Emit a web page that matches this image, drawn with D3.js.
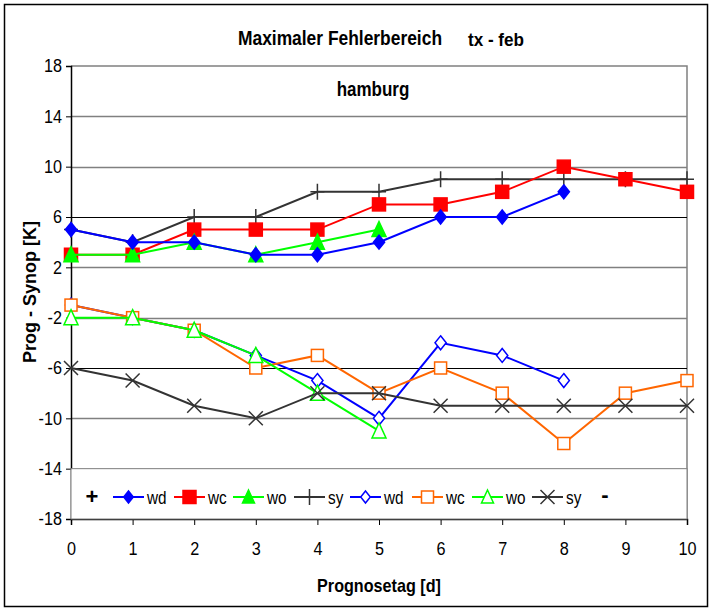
<!DOCTYPE html>
<html>
<head>
<meta charset="utf-8">
<script src="https://cdn.jsdelivr.net/npm/d3@7"></script>
<style>
  html, body { margin: 0; padding: 0; background: #fff; }
  svg { display: block; }
  text { font-family: "Liberation Sans", Arial, sans-serif; }
</style>
</head>
<body>
<svg id="chart" width="712" height="611"></svg>
<script>
// Forecast day (x) and maximum error range per model (upper "+" and lower "-" bounds)
const days = [0, 1, 2, 3, 4, 5, 6, 7, 8, 9, 10];
const yTicks = [18, 14, 10, 6, 2, -2, -6, -10, -14, -18];

const wdMax = [5, 4, 4, 3, 3, 4, 6, 6, 8];
const wcMax = [3, 3, 5, 5, 5, 7, 7, 8, 10, 9, 8];
const woMax = [3, 3, 4, 3, 4, 5];
const syMax = [5, 4, 6, 6, 8, 8, 9, 9, 9, 9, 9];

const wdMin = [-1, -2, -3, -5, -7, -10, -4, -5, -7];
const wcMin = [-1, -2, -3, -6, -5, -8, -6, -8, -12, -8, -7];
const woMin = [-2, -2, -3, -5, -8, -11];
const syMin = [-6, -7, -9, -10, -8, -8, -9, -9, -9, -9, -9];

const seriesNames = ["wd", "wc", "wo", "sy", "wd", "wc", "wo", "sy"];

const series = [
  { name: seriesNames[0], values: wdMax, color: "#0000ff", marker: "diamond", filled: true },
  { name: seriesNames[1], values: wcMax, color: "#ff0000", marker: "square", filled: true },
  { name: seriesNames[2], values: woMax, color: "#00ff00", marker: "triangle", filled: true },
  { name: seriesNames[3], values: syMax, color: "#333333", marker: "plus", filled: false },
  { name: seriesNames[4], values: wdMin, color: "#0000ff", marker: "diamond", filled: false },
  { name: seriesNames[5], values: wcMin, color: "#ff6600", marker: "square", filled: false },
  { name: seriesNames[6], values: woMin, color: "#00ff00", marker: "triangle", filled: false },
  { name: seriesNames[7], values: syMin, color: "#333333", marker: "cross", filled: false }
];

const svg = d3.select("#chart");
const W = 712, H = 611;
const plot = { left: 71, right: 687, top: 66, bottom: 519 };

const x = d3.scaleLinear().domain([0, 10]).range([plot.left, plot.right]);
const y = d3.scaleLinear().domain([-18, 18]).range([plot.bottom, plot.top]);

// squeeze a text element horizontally by a factor (narrow type look)
function narrow(sel, f) {
  sel.each(function () {
    const w = this.getComputedTextLength();
    d3.select(this).attr("textLength", w * f).attr("lengthAdjust", "spacingAndGlyphs");
  });
  return sel;
}

// outer chart frame
svg.append("rect").attr("x", 4.5).attr("y", 4.5).attr("width", W - 9).attr("height", H - 9)
  .attr("fill", "#fff").attr("stroke", "#000").attr("stroke-width", 1.5);

// plot area frame (right + top)
svg.append("path")
  .attr("d", `M${plot.left},${y(18)}H${plot.right}V${plot.bottom}`)
  .attr("fill", "none").attr("stroke", "#808080").attr("stroke-width", 1.5);

// horizontal gridlines
svg.append("g").selectAll("line").data(yTicks.filter(v => v !== 18 && v !== -18)).join("line")
  .attr("x1", plot.left).attr("x2", plot.right)
  .attr("y1", d => Math.round(y(d)) + 0.5).attr("y2", d => Math.round(y(d)) + 0.5)
  .attr("stroke", d => Math.abs(d) === 6 ? "#000" : "#808080")
  .attr("stroke-width", d => Math.abs(d) === 6 ? 1.2 : 1.5);

const fmt = d => String(d); // plain hyphen minus

// y axis
const yAxis = d3.axisLeft(y).tickValues(yTicks).tickFormat(fmt).tickSize(5).tickPadding(4);
const gy = svg.append("g").attr("transform", `translate(${plot.left},0)`).call(yAxis);
gy.select(".domain").attr("stroke", "#000").attr("stroke-width", 1.5);
gy.selectAll(".tick line").attr("stroke", "#000");
gy.selectAll(".tick text").attr("font-size", 18).attr("fill", "#000")
  .style("font-family", "'Liberation Sans', Arial, sans-serif");
narrow(gy.selectAll(".tick text"), 0.9);

// x axis
const xAxis = d3.axisBottom(x).tickValues(days).tickFormat(fmt).tickSize(6).tickPadding(17);
const gx = svg.append("g").attr("transform", `translate(0,${plot.bottom})`).call(xAxis);
gx.select(".domain").attr("stroke", "#000").attr("stroke-width", 1.5);
gx.selectAll(".tick line").attr("stroke", "#000");
gx.selectAll(".tick text").attr("font-size", 18).attr("fill", "#000")
  .style("font-family", "'Liberation Sans', Arial, sans-serif");
narrow(gx.selectAll(".tick text"), 0.9);

// legend box
svg.append("rect").attr("x", plot.left).attr("y", y(-14))
  .attr("width", plot.right - plot.left).attr("height", plot.bottom - y(-14))
  .attr("fill", "#fff").attr("stroke", "#808080").attr("stroke-width", 1);

// marker drawing
function drawMarker(g, s, cx, cy, big) {
  const r = big ? 7 : 6;
  const fill = s.filled ? s.color : "#fff";
  if (s.marker === "diamond") {
    g.append("path").attr("d", `M${cx},${cy - r}L${cx + r * 0.8},${cy}L${cx},${cy + r}L${cx - r * 0.8},${cy}Z`)
      .attr("fill", fill).attr("stroke", s.color).attr("stroke-width", 1.5);
  } else if (s.marker === "square") {
    const h = s.filled ? 6.5 : 6;
    g.append("rect").attr("x", cx - h).attr("y", cy - h).attr("width", 2 * h).attr("height", 2 * h)
      .attr("fill", fill).attr("stroke", s.color).attr("stroke-width", 1.5);
  } else if (s.marker === "triangle") {
    g.append("path").attr("d", `M${cx},${cy - r - 1}L${cx + r},${cy + r}L${cx - r},${cy + r}Z`)
      .attr("fill", fill).attr("stroke", s.color).attr("stroke-width", 1.5);
  } else if (s.marker === "plus") {
    g.append("path").attr("d", `M${cx - 7},${cy}H${cx + 7}M${cx},${cy - 8}V${cy + 8}`)
      .attr("stroke", s.color).attr("stroke-width", 1.5).attr("fill", "none");
  } else if (s.marker === "cross") {
    g.append("path").attr("d", `M${cx - 7},${cy - 7}L${cx + 7},${cy + 7}M${cx - 7},${cy + 7}L${cx + 7},${cy - 7}`)
      .attr("stroke", s.color).attr("stroke-width", 1.5).attr("fill", "none");
  }
}

const line = d3.line().x((d, i) => x(days[i])).y(d => y(d));
const gSeries = svg.append("g");
// draw lower-bound group first, then upper bound
[4, 5, 6, 7, 3, 1, 2, 0].forEach(k => {
  const s = series[k];
  const g = gSeries.append("g");
  g.append("path").attr("d", line(s.values)).attr("fill", "none")
    .attr("stroke", s.color).attr("stroke-width", 2);
  s.values.forEach((v, i) => drawMarker(g, s, x(days[i]), y(v), true));
});

// legend entries
const legY = 497;
const legG = svg.append("g");
legG.append("text").attr("x", 92).attr("y", legY + 7).attr("text-anchor", "middle")
  .attr("font-size", 22).attr("font-weight", "bold").text("+");
const legStart = [113, 174, 233, 294, 350, 412, 472, 532];
series.forEach((s, k) => {
  const x0 = legStart[k];
  legG.append("line").attr("x1", x0).attr("x2", x0 + 31).attr("y1", legY).attr("y2", legY)
    .attr("stroke", s.color).attr("stroke-width", 2);
  drawMarker(legG, s, x0 + 15.5, legY, false);
  const t = legG.append("text").attr("x", x0 + 34).attr("y", legY + 7).attr("font-size", 18)
    .text(s.name);
  narrow(t, 0.85);
});
legG.append("text").attr("x", 605).attr("y", legY + 5).attr("text-anchor", "middle")
  .attr("font-size", 22).attr("font-weight", "bold").text("-");

// titles
narrow(svg.append("text").attr("x", 340).attr("y", 45).attr("text-anchor", "middle")
  .attr("font-size", 20).attr("font-weight", "bold").text("Maximaler Fehlerbereich"), 0.87);
narrow(svg.append("text").attr("x", 496).attr("y", 46).attr("text-anchor", "middle")
  .attr("font-size", 19).attr("font-weight", "bold").text("tx - feb"), 0.9);
narrow(svg.append("text").attr("x", 373).attr("y", 96).attr("text-anchor", "middle")
  .attr("font-size", 20).attr("font-weight", "bold").text("hamburg"), 0.85);

svg.append("text").attr("transform", `translate(36,292) rotate(-90)`).attr("text-anchor", "middle")
  .attr("font-size", 18).attr("font-weight", "bold").text("Prog - Synop [K]");
narrow(svg.append("text").attr("x", 379).attr("y", 592).attr("text-anchor", "middle")
  .attr("font-size", 19).attr("font-weight", "bold").text("Prognosetag [d]"), 0.85);
</script>
</body>
</html>
